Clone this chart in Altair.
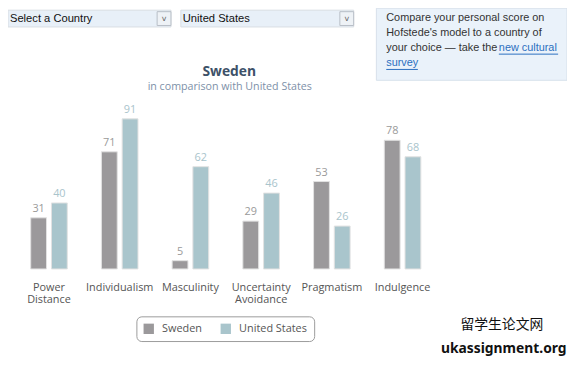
import altair as alt
import pandas as pd

dimensions = ["Power Distance", "Individualism", "Masculinity",
              "Uncertainty Avoidance", "Pragmatism", "Indulgence"]
axis_labels = ["Power\nDistance", "Individualism", "Masculinity",
               "Uncertainty\nAvoidance", "Pragmatism", "Indulgence"]
countries = ["Sweden", "United States"]
sweden = [31, 71, 5, 29, 53, 78]
usa = [40, 91, 62, 46, 26, 68]

bar_colors = ["#9b999b", "#a9c5cc"]
label_colors = ["#9a9a9a", "#a9c4cc"]

title_text = "Sweden"
subtitle_text = "in comparison with United States"
dropdown_texts = ["Select a Country", "United States"]
info_lines = ["Compare your personal score on",
              "Hofstede's model to a country of",
              "your choice \u2014 take the"]
link_texts = ["new cultural", "survey"]
watermark = ["留学生论文网", "ukassignment.org"]

rows = []
for d, s, u in zip(dimensions, sweden, usa):
    rows.append({"dim": d, "country": countries[0], "value": s})
    rows.append({"dim": d, "country": countries[1], "value": u})
df = pd.DataFrame(rows)
lab_df = pd.DataFrame({"dim": dimensions, "label": axis_labels})

FONT = "Open Sans"
xscale = alt.Scale(domain=dimensions, range=[5.7, 435.3],
                   paddingInner=0.483, paddingOuter=0.2415)
yscale = alt.Scale(domain=[0, 100], range=[262, 95])
xoff = alt.XOffset("country:N", sort=countries,
                   scale=alt.Scale(domain=countries, paddingInner=0.238, paddingOuter=0))

bars = alt.Chart(df).mark_bar(stroke="#e2e2e2", strokeWidth=1).encode(
    x=alt.X("dim:N", sort=dimensions, scale=xscale, axis=None),
    xOffset=xoff,
    y=alt.Y("value:Q", scale=yscale, axis=None),
    color=alt.Color("country:N", sort=countries,
                    scale=alt.Scale(domain=countries, range=bar_colors),
                    legend=alt.Legend(orient="none", legendX=130, legendY=310,
                                      direction="horizontal", title=None,
                                      symbolType="square", symbolSize=110,
                                      symbolStrokeWidth=0,
                                      labelFont=FONT, labelFontSize=11,
                                      labelColor="#555555", labelOffset=8,
                                      labelExpr="datum.label == 'United States' ? datum.label + '\u00a0\u00a0\u00a0\u00a0\u00a0\u00a0\u00a0\u00a0' : datum.label",
                                      strokeColor="#9a9a9a", cornerRadius=5,
                                      padding=7, columnPadding=18,
                                      fillColor="white")),
)

values = alt.Chart(df).mark_text(baseline="bottom", dy=-4, font=FONT, fontSize=11).encode(
    x=alt.X("dim:N", sort=dimensions, scale=xscale, axis=None),
    xOffset=xoff,
    y=alt.Y("value:Q", scale=yscale, axis=None),
    text=alt.Text("value:Q"),
    fill=alt.Fill("country:N", sort=countries,
                  scale=alt.Scale(domain=countries, range=label_colors), legend=None),
)

xlabels = alt.Chart(lab_df).mark_text(baseline="top", lineBreak="\n", lineHeight=12,
                                      font=FONT, fontSize=11, color="#555555").encode(
    x=alt.X("dim:N", sort=dimensions, scale=xscale, axis=None),
    y=alt.value(275),
    text="label:N",
)

title = alt.Chart(pd.DataFrame({"t": [title_text]})).mark_text(
    font=FONT, fontSize=14, fontWeight="bold", color="#3d5168").encode(
    x=alt.value(224), y=alt.value(63), text="t:N")
subtitle = alt.Chart(pd.DataFrame({"t": [subtitle_text]})).mark_text(
    font=FONT, fontSize=10.8, color="#7d90a8").encode(
    x=alt.value(224.5), y=alt.value(78), text="t:N")

# dropdowns
dd_df = pd.DataFrame({"t": dropdown_texts, "x0": [0, 175], "x1": [165, 350]})
dd_box = alt.Chart(dd_df).mark_rect(fill="#e8f0f8", stroke="#d8dde3").encode(
    x=alt.X("x0:Q", scale=None), x2="x1:Q", y=alt.value(0), y2=alt.value(17))
dd_btn = alt.Chart(dd_df).transform_calculate(b0="datum.x1-14").mark_rect(
    fill="#eef2f6", stroke="#b8bec6").encode(
    x=alt.X("b0:Q", scale=None), x2="x1:Q", y=alt.value(1.5), y2=alt.value(15.5))
dd_arrow = alt.Chart(dd_df).transform_calculate(b0="datum.x1-7").mark_text(
    text="v", font="DejaVu Sans", fontSize=8, color="#666666").encode(
    x=alt.X("b0:Q", scale=None), y=alt.value(8.5))
dd_text = alt.Chart(dd_df).transform_calculate(tx="datum.x0+2").mark_text(
    align="left", font="Liberation Sans", fontSize=11.3, color="#111111").encode(
    x=alt.X("tx:Q", scale=None), y=alt.value(9), text="t:N")

# info box
info_box = alt.Chart(pd.DataFrame({"a": [0]})).mark_rect(
    fill="#eaf2fa", stroke="#d6e0ea").encode(
    x=alt.value(373), x2=alt.value(566), y=alt.value(-2), y2=alt.value(71))
info_df = pd.DataFrame({"t": info_lines, "y": [8, 23.5, 38.5]})
info_text = alt.Chart(info_df).mark_text(
    align="left", font="Liberation Sans", fontSize=11, color="#333333").encode(
    x=alt.value(383), y=alt.Y("y:Q", scale=None), text="t:N")
link_df = pd.DataFrame({"t": link_texts, "x": [497, 383], "y": [38.5, 54],
                        "x2": [557, 415]})
link_text = alt.Chart(link_df).mark_text(
    align="left", font="Liberation Sans", fontSize=11, color="#2a6fc0").encode(
    x=alt.X("x:Q", scale=None), y=alt.Y("y:Q", scale=None), text="t:N")
link_line = alt.Chart(link_df).transform_calculate(yy="datum.y+6").mark_rule(
    color="#2a6fc0", strokeWidth=1).encode(
    x=alt.X("x:Q", scale=None), x2="x2:Q", y=alt.Y("yy:Q", scale=None))

# watermark
wm1 = alt.Chart(pd.DataFrame({"t": [watermark[0]]})).mark_text(
    font="Noto Sans CJK SC", fontSize=14, color="#111111").encode(
    x=alt.value(500), y=alt.value(319), text="t:N")
wm2 = alt.Chart(pd.DataFrame({"t": [watermark[1]]})).mark_text(
    font="Noto Sans", fontSize=14, fontWeight="bold", color="#111111").encode(
    x=alt.value(502), y=alt.value(343), text="t:N")

chart = alt.layer(
    dd_box, dd_btn, dd_arrow, dd_text, info_box, info_text, link_text, link_line,
    title, subtitle, bars, values, xlabels, wm1, wm2
).properties(
    width=566, height=353, padding=0, autosize=alt.AutoSizeParams(type="none"),
    view=alt.ViewBackground(stroke="transparent", strokeWidth=0)
).configure_view(stroke="transparent", strokeWidth=0).configure(background="white")

chart.save("out.html", embed_options={"renderer": "svg", "actions": False})
